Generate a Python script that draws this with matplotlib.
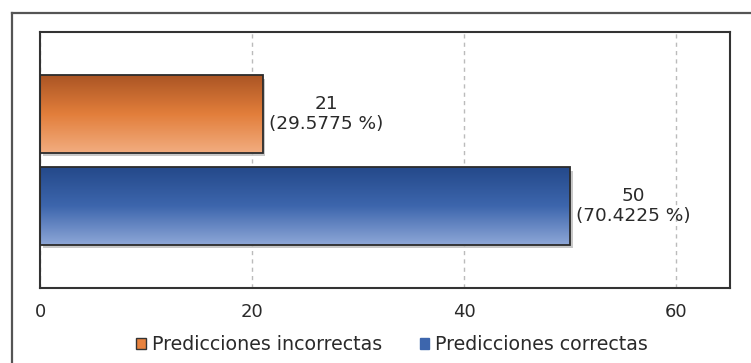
import matplotlib
matplotlib.use("Agg")
import matplotlib.pyplot as plt
import numpy as np
from matplotlib.colors import LinearSegmentedColormap
from matplotlib.patches import Patch
from matplotlib.lines import Line2D

# data
categorias = ['Predicciones correctas', 'Predicciones incorrectas']
valores = [50, 21]
porcentajes = [70.4225, 29.5775]
ticks_x = [0, 20, 40, 60]

# gradients top -> bottom
grad_azul = ['#24498a', '#3d66ad', '#8ea7d7']
grad_naranja = ['#ab5524', '#e27e3b', '#f2ad80']

plt.rcParams['font.family'] = 'DejaVu Sans'

fig = plt.figure(figsize=(7.51, 3.63), dpi=100)
ax = fig.add_axes([0.0533, 0.2066, 0.9187, 0.7052])

# outer frame (only left and top are visible in the picture)
fig.add_artist(Line2D([12/751, 12/751], [0, 1-13/363], transform=fig.transFigure, color='#555555', lw=1.6))
fig.add_artist(Line2D([12/751, 1], [1-13/363, 1-13/363], transform=fig.transFigure, color='#555555', lw=1.6))

pos = np.arange(len(categorias))
alto = 0.84
barras = ax.barh(pos, valores, height=alto, color='none', edgecolor='#2b2b2b', linewidth=1.3, zorder=3)

for b, g in zip(barras, [grad_azul, grad_naranja]):
    x0, y0 = b.get_x(), b.get_y()
    w, h = b.get_width(), b.get_height()
    # light shadow
    ax.add_patch(plt.Rectangle((x0 + 0.25, y0 - 0.04), w, h, color='#c8c8c8', zorder=1.5, lw=0))
    cmap = LinearSegmentedColormap.from_list('g', g)
    grad = np.linspace(0, 1, 256).reshape(-1, 1)
    im = ax.imshow(grad, cmap=cmap, aspect='auto', extent=[x0, x0 + w, y0, y0 + h],
                   origin='upper', zorder=2)
    im.set_clip_path(b)

for v, p, y in zip(valores, porcentajes, pos):
    ax.annotate(f"{v}\n({p} %)", xy=(v, y), xytext=(4.5, 0), textcoords='offset points',
                ha='left', va='center', multialignment='center', fontsize=13.3,
                color='#2a2a2a', linespacing=1.2)

ax.set_xlim(0, 65.1)
ax.set_ylim(-0.89, 1.89)
ax.set_xticks(ticks_x)
ax.set_yticks([])
ax.tick_params(axis='x', length=0, pad=11, labelsize=13, labelcolor='#2a2a2a')
ax.grid(axis='x', linestyle=(0, (3, 3)), color='#bbbbbb', lw=1.0, zorder=0)
for s in ax.spines.values():
    s.set_color('#333333')
    s.set_linewidth(1.5)

handles = [Patch(facecolor='#e8823e', edgecolor='#333333', lw=1.0, label='Predicciones incorrectas'),
           Patch(facecolor='#3d66ad', edgecolor='#3d66ad', lw=1.0, label='Predicciones correctas')]
fig.legend(handles=handles, loc='center', bbox_to_anchor=(392/751, 1-345/363), ncol=2,
           frameon=False, fontsize=13.7, handlelength=0.5, handleheight=0.5,
           handletextpad=0.3, columnspacing=2.0, labelcolor='#2a2a2a')

fig.savefig('out.png', dpi=100)
